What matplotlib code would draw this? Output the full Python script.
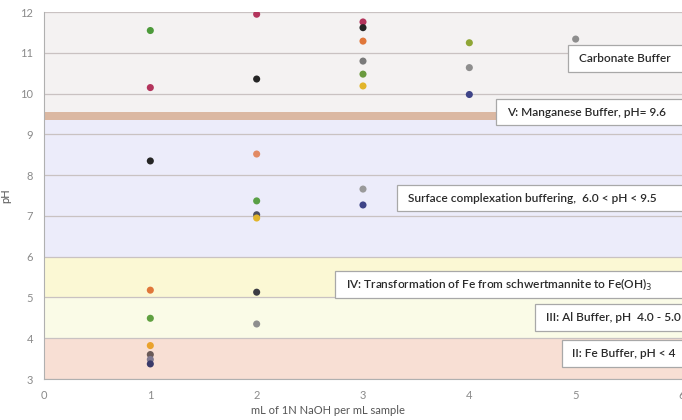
"""
Titration curves of mine-water samples against buffer zones (pH vs. NaOH dose).
Writes out.png (682x420).
"""

import matplotlib
matplotlib.use("Agg")
import matplotlib.pyplot as plt
from matplotlib.patches import Rectangle

plt.rcParams["font.family"] = ["Lato", "DejaVu Sans"]

# dose (mL 1N NaOH per mL sample), measured pH, point colour
DOSE = [1, 1, 1, 1, 1, 1, 1, 1, 1,
        2, 2, 2, 2, 2, 2, 2, 2,
        3, 3, 3, 3, 3, 3, 3, 3,
        4, 4, 4,
        5]
PH = [11.55, 10.15, 8.35, 5.18, 4.49, 3.82, 3.60, 3.48, 3.37,
      11.95, 10.36, 8.52, 7.37, 7.03, 6.95, 5.13, 4.35,
      11.76, 11.62, 11.29, 10.80, 10.48, 10.19, 7.66, 7.27,
      11.25, 10.64, 9.98,
      11.34]
COLORS = ["#4c9a3a", "#b3345c", "#252525", "#e0773a", "#5fa040", "#eaa22c",
          "#6a5a58", "#7e7890", "#3a3a6a",
          "#b3345c", "#252525", "#e28a64", "#5aa046", "#4e5060", "#e2b52a",
          "#3c3c44", "#8e8e8e",
          "#b3345c", "#252525", "#e0773a", "#7a7a7a", "#6a9a3e", "#e2b52a",
          "#9a9a9a", "#3e4488",
          "#8fa636", "#8e8e8e", "#3e4488",
          "#8e8e8e"]

# buffer zones: (pH low, pH high, fill colour)
ZONES = [(3.0, 4.0, "#f8dfd4"),
         (4.0, 5.0, "#fafbe7"),
         (5.0, 6.0, "#fbf8d4"),
         (6.0, 9.35, "#ececfa"),
         (9.35, 9.55, "#dbb8a2"),
         (9.55, 12.0, "#f4f2f2")]

# annotation boxes: (label, box left in x-data, box centre pH)
LABELS = [("Carbonate Buffer", 4.93, 10.87),
          ("V: Manganese Buffer, pH= 9.6", 4.25, 9.55),
          ("Surface complexation buffering,  6.0 < pH < 9.5", 3.32, 7.44),
          ("IV: Transformation of Fe from schwertmannite to Fe(OH)$_3$", 2.74, 5.31),
          ("III: Al Buffer, pH  4.0 - 5.0", 4.62, 4.50),
          ("II: Fe Buffer, pH < 4", 4.87, 3.62)]

fig = plt.figure(figsize=(6.82, 4.20), dpi=100)
ax = fig.add_axes([0.0645, 0.0976, 0.9355, 0.8734])
ax.set_xlim(0, 6)
ax.set_ylim(3, 12)

for lo, hi, col in ZONES:
    ax.axhspan(lo, hi, color=col, lw=0, zorder=0)

for y in range(3, 13):
    ax.axhline(y, color="#c9c2c2", lw=0.9, zorder=1)

for text, x0, yc in LABELS:
    ax.add_patch(Rectangle((x0, yc - 0.33), 6.5 - x0, 0.66, facecolor="white",
                           edgecolor="#a8a8a8", lw=0.9, zorder=3, clip_on=False))
    ax.text(x0 + 0.1, yc, text, fontsize=8.6, fontweight="semibold",
            color="#2a2a2a", ha="left", va="center", zorder=4, clip_on=False)

ax.scatter(DOSE, PH, c=COLORS, s=26, zorder=5, edgecolors="none")

for side in ("top", "right"):
    ax.spines[side].set_visible(False)
for side in ("left", "bottom"):
    ax.spines[side].set_color("#b0b0b0")
ax.set_xticks(range(0, 7))
ax.set_yticks(range(3, 13))
ax.tick_params(length=0, labelsize=8, colors="#8a8a8a", pad=8)
ax.set_xlabel("mL of 1N NaOH per mL sample", fontsize=8, color="#555555")
ax.xaxis.set_label_coords(0.445, -0.07)
ax.set_ylabel("pH", fontsize=8, color="#555555")
ax.yaxis.set_label_coords(-0.052, 0.5)

fig.savefig("out.png", dpi=100)
